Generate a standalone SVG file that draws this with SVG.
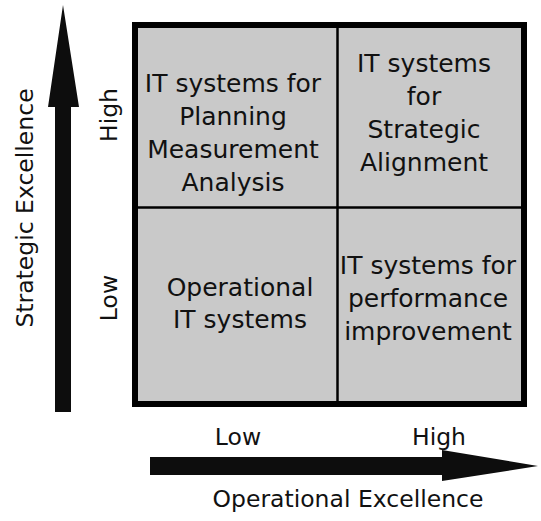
<svg xmlns="http://www.w3.org/2000/svg" width="541" height="521" viewBox="0 0 541 521">
<style>
.t{font-family:"DejaVu Sans","Verdana",sans-serif;font-size:25px;fill:#111;text-anchor:middle}
.a{font-family:"DejaVu Sans","Verdana",sans-serif;font-size:23.5px;fill:#111;text-anchor:middle}
.cell{fill:#c9c9c9;stroke:none}
.arrow{fill:#0d0d0d}
</style>
<rect width="541" height="521" fill="#fff"/>
<g id="quadrant-high-low">
<rect class="cell" x="137" y="28" width="200" height="179"/>
<text class="t" x="233" y="92">IT systems for</text>
<text class="t" x="233" y="125">Planning</text>
<text class="t" x="233" y="158">Measurement</text>
<text class="t" x="233" y="191">Analysis</text>
</g>
<g id="quadrant-high-high">
<rect class="cell" x="338" y="28" width="184" height="179"/>
<text class="t" x="424" y="72">IT systems</text>
<text class="t" x="424" y="105">for</text>
<text class="t" x="424" y="138">Strategic</text>
<text class="t" x="424" y="171">Alignment</text>
</g>
<g id="quadrant-low-low">
<rect class="cell" x="137" y="208" width="200" height="193"/>
<text class="t" x="240" y="296">Operational</text>
<text class="t" x="240" y="328">IT systems</text>
</g>
<g id="quadrant-low-high">
<rect class="cell" x="338" y="208" width="184" height="193"/>
<text class="t" x="428" y="274">IT systems for</text>
<text class="t" x="428" y="307">performance</text>
<text class="t" x="428" y="340">improvement</text>
</g>
<g id="grid" fill="none" stroke="#000">
<rect x="135" y="25" width="389" height="379" stroke-width="6"/>
<line x1="337.5" y1="27" x2="337.5" y2="402" stroke-width="2.5"/>
<line x1="137" y1="207.5" x2="522" y2="207.5" stroke-width="2.5"/>
</g>
<g id="connectors">
<polygon class="arrow" points="55,412 71,412 71,107 79,107 63,5 48,107 55,107"/>
<polygon class="arrow" points="150,457 150,475 442,475 442,481 538,466 442,450 442,457"/>
</g>
<g id="axis-labels">
<text class="a" transform="translate(117,115) rotate(-90)">High</text>
<text class="a" transform="translate(117,298) rotate(-90)">Low</text>
<text class="a" transform="translate(33,208) rotate(-90)">Strategic Excellence</text>
<text class="a" x="238" y="445">Low</text>
<text class="a" x="439" y="445">High</text>
<text class="a" x="348" y="507">Operational Excellence</text>
</g>
</svg>
